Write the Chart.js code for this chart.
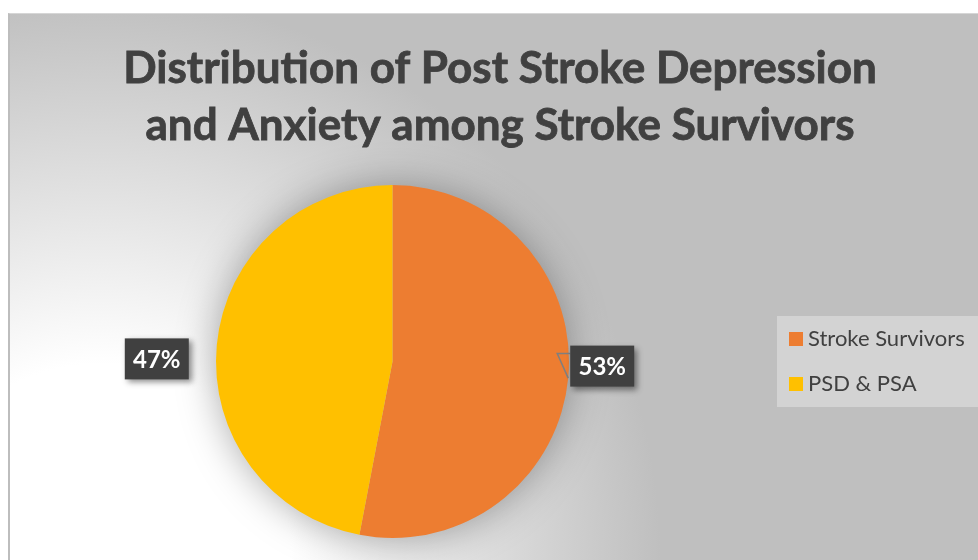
<!DOCTYPE html>
<html>
<head>
<meta charset="utf-8">
<script src="https://cdn.jsdelivr.net/npm/chart.js@4.4.0/dist/chart.umd.min.js"></script>
<style>
  html, body { margin: 0; padding: 0; background: #fff; overflow: hidden; width: 978px; height: 560px; }
  #frame {
    position: absolute; left: 8px; top: 13px; width: 984px; height: 560px;
    box-sizing: border-box;
    border-left: 2px solid #bdbdbd; border-top: 1px solid #d6d6d6;
    background: radial-gradient(circle at 90px 540px, #ffffff 0px, #ffffff 190px, #bfbfbf 560px);
  }
  #chart { position: absolute; left: 8px; top: 13px; }
</style>
</head>
<body>
<div id="frame"></div>
<canvas id="chart" width="984" height="560"></canvas>
<script>
const categories = ["Stroke Survivors", "PSD & PSA"];
const shares = [53, 47];
const sliceColors = ["#ED7D31", "#FFC000"];
const titleLines = ["Distribution of Post Stroke Depression", "and Anxiety among Stroke Survivors"];

// where each percent box sits, measured from the slice edge at its mid angle
const labelShift = [[34, -12], [-60, 14]];
const labelLeader = [true, false];

const textColor = "#404040";


const chartTitle = {
    id: "chartTitle",
    afterDraw(chart) {
        const ctx = chart.ctx;
        ctx.save();
        ctx.fillStyle = textColor;
        ctx.strokeStyle = textColor;
        ctx.lineWidth = 0.8;
        ctx.font = "bold 44px Lato";
        ctx.textAlign = "center";
        ctx.textBaseline = "alphabetic";
        titleLines.forEach((line, i) => {
            ctx.fillText(line, chart.width / 2, 70 + i * 57);
            ctx.strokeText(line, chart.width / 2, 70 + i * 57);
        });
        ctx.restore();
    }
};


const pieShadow = {
    id: "pieShadow",
    beforeDatasetsDraw(chart) {
        const arc = chart.getDatasetMeta(0).data[0];
        const ctx = chart.ctx;
        ctx.save();
        ctx.shadowColor = "rgba(0, 0, 0, 0.35)";
        ctx.shadowBlur = 40;
        ctx.fillStyle = "#bfbfbf";
        ctx.beginPath();
        ctx.arc(arc.x, arc.y, arc.outerRadius - 1, 0, Math.PI * 2);
        ctx.fill();
        ctx.restore();
    }
};


const sliceLabels = {
    id: "sliceLabels",
    afterDatasetsDraw(chart) {
        const ctx = chart.ctx;
        const values = chart.data.datasets[0].data;
        const total = values.reduce((a, b) => a + b, 0);

        chart.getDatasetMeta(0).data.forEach((arc, i) => {
            const mid = (arc.startAngle + arc.endAngle) / 2;
            const ax = arc.x + Math.cos(mid) * arc.outerRadius;
            const ay = arc.y + Math.sin(mid) * arc.outerRadius;
            const text = Math.round(values[i] / total * 100) + "%";

            ctx.save();
            ctx.font = "bold 24px Lato";
            const w = 64;
            const h = 41;
            const cx = ax + labelShift[i][0];
            const cy = ay + labelShift[i][1];
            const left = cx - w / 2;
            const top = cy - h / 2;

            if (labelLeader[i]) {
                ctx.strokeStyle = "#7f7f7f";
                ctx.lineWidth = 1.5;
                ctx.beginPath();
                ctx.moveTo(ax, ay);
                ctx.lineTo(left - 13, top + 8);
                ctx.lineTo(left, top + 8);
                ctx.stroke();
            }

            ctx.shadowColor = "rgba(0, 0, 0, 0.45)";
            ctx.shadowBlur = 6;
            ctx.shadowOffsetX = 3;
            ctx.shadowOffsetY = 3;
            ctx.fillStyle = "#404040";
            ctx.fillRect(left, top, w, h);

            ctx.shadowColor = "transparent";
            ctx.fillStyle = "#ffffff";
            ctx.textAlign = "center";
            ctx.textBaseline = "middle";
            ctx.fillText(text, cx, cy + 1);
            ctx.restore();
        });
    }
};


const sideLegend = {
    id: "sideLegend",
    afterDraw(chart) {
        const ctx = chart.ctx;
        const area = chart.chartArea;
        const colors = chart.data.datasets[0].backgroundColor;
        const rowGap = 45;
        const boxH = rowGap * chart.data.labels.length + 1;
        const top = (area.top + area.bottom) / 2 - boxH / 2;

        ctx.save();
        ctx.fillStyle = "#d3d3d3";
        ctx.fillRect(area.right, top, chart.width - area.right, boxH);

        ctx.font = "22px Lato";
        ctx.textBaseline = "alphabetic";
        chart.data.labels.forEach((label, i) => {
            const y = top + 16 + i * rowGap;
            ctx.fillStyle = colors[i];
            ctx.fillRect(area.right + 12, y, 14, 14);
            ctx.fillStyle = textColor;
            ctx.fillText(label, area.right + 31, y + 14);
        });
        ctx.restore();
    }
};


function drawChart() {

    const ctx = document.getElementById("chart").getContext("2d");

    new Chart(ctx, {
        type: "pie",
        data: {
            labels: categories,
            datasets: [{
                data: shares,
                backgroundColor: sliceColors,
                borderWidth: 0
            }]
        },
        options: {
            responsive: false,
            animation: false,
            layout: {
                padding: { top: 172, right: 215, bottom: 35, left: 0 }
            },
            plugins: {
                legend: { display: false },
                tooltip: { enabled: false },
                title: { display: false }
            }
        },
        plugins: [pieShadow, sliceLabels, chartTitle, sideLegend]
    });
}

document.fonts.load("bold 44px Lato").then(drawChart, drawChart);
</script>
</body>
</html>
